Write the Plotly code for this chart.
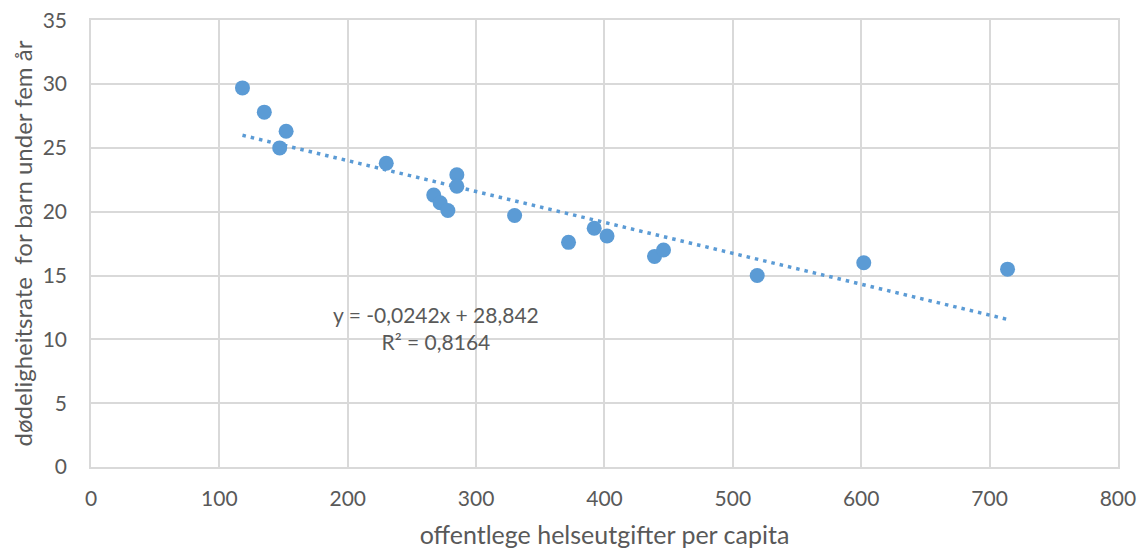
import numpy as np
import plotly.graph_objects as go

# Data
spending = [118, 135, 152, 147, 230, 285, 285, 267, 272, 278, 330, 372, 392, 402, 439, 446, 519, 602, 714]
mortality = [29.7, 27.8, 26.3, 25.0, 23.8, 22.9, 22.0, 21.3, 20.7, 20.1, 19.7, 17.6, 18.7, 18.1, 16.5, 17.0, 15.0, 16.0, 15.5]

slope = -0.0242
intercept = 28.842
eq_text = "y = -0,0242x + 28,842<br>R² = 0,8164"

x_ticks = [0, 100, 200, 300, 400, 500, 600, 700, 800]
y_ticks = [0, 5, 10, 15, 20, 25, 30, 35]

blue = "#5B9BD5"
grey_text = "#595959"
grid = "#D9D9D9"
font_family = "Lato, 'Open Sans', sans-serif"

tx = np.array([min(spending), max(spending)])
ty = slope * tx + intercept

fig = go.Figure()
fig.add_trace(go.Scatter(
    x=tx, y=ty, mode="lines",
    line=dict(color=blue, width=3.5, dash="3.5px,5px"),
    hoverinfo="skip", showlegend=False,
))
fig.add_trace(go.Scatter(
    x=spending, y=mortality, mode="markers",
    marker=dict(color=blue, size=15, line=dict(width=0)),
    showlegend=False,
))

fig.add_annotation(
    x=268.7, y=10.88, xref="x", yref="y",
    text=eq_text, showarrow=False, align="center",
    font=dict(family=font_family, size=21, color=grey_text),
)

fig.update_xaxes(
    range=[0, 800.05], tickvals=x_ticks, ticktext=[str(v) for v in x_ticks],
    showgrid=True, gridcolor=grid, gridwidth=1.5,
    zeroline=False, showline=True, mirror=True, linecolor=grid, linewidth=1.5,
    ticks="", automargin=False, ticklabeloverflow="allow",
    ticklabelstandoff=12,
    tickfont=dict(family=font_family, size=21, color=grey_text),
    title=dict(text="offentlege helseutgifter per capita",
               font=dict(family=font_family, size=25, color=grey_text), standoff=24),
)
fig.update_yaxes(
    range=[0, 35.02], tickvals=y_ticks, ticktext=[str(v) for v in y_ticks],
    showgrid=True, gridcolor=grid, gridwidth=1.5,
    zeroline=False, showline=True, mirror=True, linecolor=grid, linewidth=1.5,
    ticks="", automargin=False, ticklabeloverflow="allow",
    ticklabelstandoff=18,
    tickfont=dict(family=font_family, size=21, color=grey_text),
    title=dict(text="dødeligheitsrate  for barn under fem år",
               font=dict(family=font_family, size=24, color=grey_text), standoff=6),
)

fig.update_layout(
    width=1130, height=541,
    margin=dict(l=83, r=20, t=12, b=82),
    plot_bgcolor="white", paper_bgcolor="white",
    font=dict(family=font_family, color=grey_text),
)

fig.write_html("out.html")
